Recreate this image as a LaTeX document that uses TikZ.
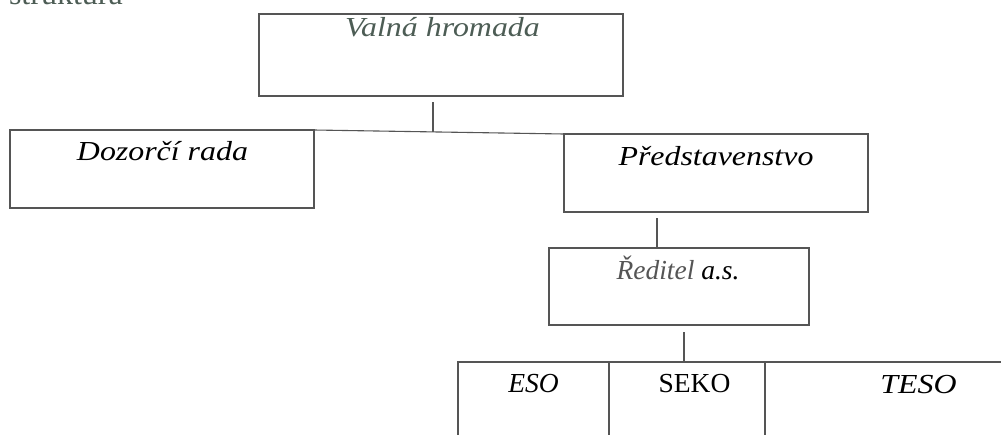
\documentclass[tikz,border=0pt]{standalone}
\usepackage{fontspec}
\usepackage{graphicx}
\setmainfont{Liberation Serif}[ItalicFont={Liberation Serif Italic}]
\definecolor{linec}{HTML}{555555}
\definecolor{greenish}{HTML}{4D5D55}
\definecolor{graytxt}{HTML}{555555}
\tikzset{
  box/.style={draw=linec, line width=1.1pt, rectangle, inner sep=0pt, outer sep=0pt},
  conn/.style={draw=linec, line width=1.1pt},
  lbl/.style={anchor=base, inner sep=0pt, font=\fontsize{27.5}{30}\selectfont\itshape},
}
\newcommand{\wid}[1]{\scalebox{1.16}[1]{#1}}
\begin{document}
\begin{tikzpicture}[x=1pt,y=-1pt]
\useasboundingbox (0,0) rectangle (1001,434);
\fill[white] (0,0) rectangle (1001,434);
% caption (cut off at the top, as in the reference)
\node[anchor=base east, inner sep=0pt, text=greenish, font=\fontsize{32}{34}\selectfont] (cap) at (123,4.5) {struktura};
% boxes
\node[box, minimum width=364, minimum height=82] (v) at (441,55) {};
\node[box, minimum width=304, minimum height=78] (d) at (162,169) {};
\node[box, minimum width=304, minimum height=78] (p) at (716,173) {};
\node[box, minimum width=260, minimum height=77] (r) at (679,286.5) {};
\node[box, minimum width=151, minimum height=98] (e) at (533.5,411) {};
\node[box, minimum width=156, minimum height=98] (s) at (687,411) {};
\node[box, minimum width=255, minimum height=98] (t) at (892.5,411) {};
% labels
\node[lbl, text=greenish] (vt) at (442.5,36) {\wid{Valná hromada}};
\node[lbl] (dt) at (162.5,160) {\wid{Dozorčí rada}};
\node[lbl] (pt) at (716,165) {\wid{Představenstvo}};
\node[lbl] (rt) at (678,279) {\textcolor{graytxt}{Ředitel} a.s.};
\node[lbl] (et) at (533.5,392) {ESO};
\node[lbl, font=\fontsize{27.5}{30}\selectfont\upshape] (st) at (694.5,392) {SEKO};
\node[lbl] (tt) at (918.5,393) {\wid{TESO}};
% connectors
\coordinate (j1) at (433,131.5);
\coordinate (j2) at (657,248);
\coordinate (j3) at (684,362);
\draw[conn] (d.north east) -- (p.north west);
\draw[conn, shorten <=6pt] (v.south -| j1) -- (j1);
\draw[conn, shorten <=6pt] (p.south -| j2) -- (j2);
\draw[conn, shorten <=7pt] (r.south -| j3) -- (j3);
\end{tikzpicture}
\end{document}
